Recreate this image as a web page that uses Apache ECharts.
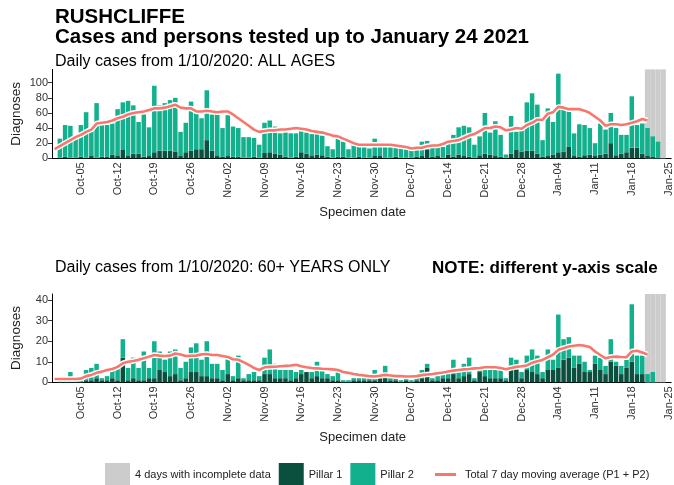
<!DOCTYPE html>
<html>
<head>
<meta charset="utf-8">
<script src="https://cdn.jsdelivr.net/npm/echarts@6/dist/echarts.min.js"></script>
<style>
  html, body { margin: 0; padding: 0; background: #ffffff; }
  #chart { width: 674px; height: 485px; }
</style>
</head>
<body>
<div id="chart"></div>
<script>
// Axis runs from 30 Sep 2020 to 25 Jan 2021; daily bars start on 1 Oct 2020.
const axisStartUTC = Date.UTC(2020, 8, 30);
const axisDayCount = 118;
const tickLabels = ['Oct-05', 'Oct-12', 'Oct-19', 'Oct-26', 'Nov-02', 'Nov-09', 'Nov-16', 'Nov-23',
  'Nov-30', 'Dec-07', 'Dec-14', 'Dec-21', 'Dec-28', 'Jan-04', 'Jan-11', 'Jan-18', 'Jan-25'];
const incompleteDays = ['Jan-21', 'Jan-22', 'Jan-23', 'Jan-24'];

// ALL AGES, daily cases 1 Oct 2020 - 24 Jan 2021
const allPillar1 = [
  1, 2, 1, 1, 2, 1, 3, 1, 2, 2,
  5, 3, 11, 3, 6, 6, 2, 3, 8, 10,
  10, 10, 9, 3, 8, 10, 12, 12, 24, 10,
  3, 2, 3, 2, 2, 1, 1, 2, 1, 7,
  8, 6, 5, 2, 1, 2, 8, 6, 3, 5,
  4, 2, 1, 2, 2, 1, 1, 2, 1, 1,
  3, 3, 1, 1, 2, 1, 1, 1, 2, 3,
  11, 2, 3, 1, 5, 2, 5, 3, 2, 1,
  4, 6, 5, 3, 2, 1, 6, 11, 9, 10,
  10, 6, 2, 3, 5, 8, 9, 15, 3, 2,
  4, 5, 3, 5, 6, 20, 4, 6, 8, 14,
  14, 6, 3, 2, 1, 0
];
const allPillar2 = [
  25, 42, 42, 29, 42, 60, 37, 72, 43, 42,
  41, 62, 63, 73, 64, 42, 56, 38, 88, 60,
  63, 67, 71, 32, 39, 65, 48, 41, 66, 48,
  57, 38, 54, 40, 38, 27, 27, 25, 17, 40,
  42, 36, 28, 32, 32, 31, 28, 28, 29, 27,
  26, 14, 11, 24, 20, 11, 16, 13, 14, 12,
  23, 14, 16, 16, 15, 14, 11, 9, 15, 19,
  12, 14, 14, 14, 17, 29, 36, 40, 39, 17,
  25, 54, 29, 46, 29, 4, 50, 24, 29, 64,
  76, 65, 22, 63, 43, 104, 55, 47, 30, 43,
  40, 35, 17, 41, 32, 40, 36, 25, 23, 68,
  30, 40, 37, 27, 21, 0
];
// 7 day moving average (P1 + P2), 30 Sep 2020 - 21 Jan 2021
const allAverage = [
  12,
  16, 20, 24, 28, 31, 35, 38, 46, 47, 48,
  50, 53, 55, 58, 60, 61, 62, 64, 66, 66,
  67, 69, 71, 67, 66, 66, 62, 62, 63, 62,
  61, 62, 62, 58, 53, 48, 43, 38, 35, 36,
  37, 37, 38, 38, 39, 40, 39, 38, 36, 35,
  34, 32, 30, 29, 26, 23, 20, 18, 18, 18,
  18, 18, 18, 18, 17, 16, 15, 13, 14, 14,
  16, 17, 17, 19, 22, 23, 24, 27, 30, 32,
  36, 40, 40, 42, 41, 37, 38, 40, 39, 44,
  47, 51, 51, 59, 61, 68, 67, 65, 65, 65,
  63, 60, 55, 50, 43, 45, 45, 44, 45, 47,
  49, 52, 50
];

// 60+ YEARS ONLY, daily cases 1 Oct 2020 - 24 Jan 2021
const oldPillar1 = [
  0, 0, 0, 0, 0, 1, 1, 2, 1, 1,
  2, 1, 12, 1, 2, 1, 1, 2, 2, 6,
  5, 3, 4, 1, 2, 5, 5, 3, 3, 2,
  2, 1, 4, 1, 2, 1, 1, 1, 1, 4,
  4, 2, 2, 2, 1, 2, 4, 5, 2, 3,
  2, 2, 1, 1, 0, 0, 1, 1, 1, 1,
  1, 2, 2, 1, 1, 0, 1, 0, 1, 2,
  7, 1, 1, 2, 2, 4, 2, 3, 4, 1,
  5, 3, 2, 2, 2, 1, 6, 7, 2, 6,
  5, 4, 2, 6, 6, 7, 11, 12, 7, 9,
  5, 5, 9, 6, 4, 10, 8, 4, 7, 10,
  4, 4, 0, 0, 0, 0
];
const oldPillar2 = [
  1, 1, 5, 1, 2, 5, 6, 7, 1, 2,
  4, 7, 9, 6, 10, 6, 14, 5, 18, 9,
  6, 12, 12, 6, 8, 12, 14, 8, 17, 7,
  7, 5, 8, 2, 11, 1, 3, 4, 2, 8,
  12, 7, 4, 4, 5, 3, 2, 0, 3, 7,
  4, 2, 2, 4, 1, 1, 1, 1, 1, 1,
  5, 0, 6, 1, 1, 1, 1, 1, 1, 4,
  2, 1, 2, 2, 3, 7, 3, 6, 8, 1,
  1, 3, 4, 4, 4, 1, 6, 4, 3, 7,
  11, 9, 3, 10, 5, 26, 10, 10, 6, 4,
  5, 1, 4, 6, 4, 11, 2, 4, 4, 28,
  9, 9, 4, 5, 0, 0
];
const oldAverage = [
  1.6,
  1.6, 1.6, 1.6, 1.6, 1.8, 3, 3.6, 4.6, 5.2, 6,
  6.5, 7.5, 9.3, 10, 10.4, 11, 11.7, 12.5, 13.3, 13,
  12.8, 13, 14, 13.5, 12.8, 12.9, 13, 13.6, 13.8, 13.3,
  13.3, 12.8, 12.3, 11.2, 11, 9.8, 8.5, 7, 6, 7.3,
  7.5, 7.6, 7.8, 8, 8.2, 8.5, 7.8, 7.3, 7, 6.8,
  6.6, 6.5, 6.3, 6, 5, 4.6, 4, 3.6, 3.3, 3,
  2.8, 3.2, 3.6, 3.3, 3, 3, 2.8, 2.8, 3, 3.5,
  3.8, 4, 4.4, 4.8, 5.3, 5.7, 6, 6.3, 6.5, 6.8,
  7, 7.3, 7.3, 7.3, 7, 6.3, 7, 7.5, 7.8, 8.2,
  9.5, 10.3, 10.9, 12.2, 13.5, 15.8, 16.6, 17.4, 17.8, 18.2,
  17.8, 17.2, 15, 13.3, 11.7, 12.3, 12.5, 12.3, 12.2, 15,
  15.4, 14.5, 13.5
];

const TOP_MAX = 117.6;
const BOTTOM_MAX = 43;

const COL_P1 = '#0b4f3e';
const COL_P2 = '#13b08e';
const COL_AVG = '#f8766d';
const COL_GREY = '#cccccc';
const FONT = 'Liberation Sans, Arial, Helvetica, sans-serif';

const MONTHS = ['Jan', 'Feb', 'Mar', 'Apr', 'May', 'Jun', 'Jul', 'Aug', 'Sep', 'Oct', 'Nov', 'Dec'];
const categories = [];
for (let i = 0; i < axisDayCount; i++) {
  const d = new Date(axisStartUTC + i * 86400000);
  categories.push(MONTHS[d.getUTCMonth()] + '-' + String(d.getUTCDate()).padStart(2, '0'));
}

// Bars begin one day after the axis start; the average begins on the axis start.
function barData(arr) {
  return categories.map((c, i) => (i >= 1 && i - 1 < arr.length ? arr[i - 1] : null));
}
function lineData(arr) {
  return categories.map((c, i) => (i < arr.length ? arr[i] : null));
}
function greyData(top) {
  return categories.map(c => (incompleteDays.includes(c) ? top : null));
}
const isTick = (i, v) => tickLabels.includes(v);

function mainXAxis(gridIndex) {
  return {
    type: 'category', gridIndex, data: categories, boundaryGap: true,
    axisLine: { lineStyle: { color: '#000', width: 1 } },
    axisTick: { interval: isTick, alignWithLabel: true, length: 4, lineStyle: { color: '#333' } },
    axisLabel: { interval: isTick, rotate: 90, fontSize: 11, color: '#333', margin: 4, fontFamily: FONT },
    splitLine: { show: false }
  };
}
function hiddenXAxis(gridIndex) {
  return { type: 'category', gridIndex, data: categories, boundaryGap: true, show: false };
}
function yAxis(gridIndex, max, interval) {
  return {
    type: 'value', gridIndex, min: 0, max, interval,
    axisLine: { show: true, lineStyle: { color: '#000', width: 1 } },
    axisTick: { show: true, length: 4, lineStyle: { color: '#333' } },
    axisLabel: { fontSize: 11, color: '#333', margin: 4, showMaxLabel: false, fontFamily: FONT },
    splitLine: { show: false }
  };
}

function panelSeries(xMain, xHidden, yIdx, p1, p2, avg, top) {
  return [
    {
      name: '4 days with incomplete data', type: 'bar', xAxisIndex: xHidden, yAxisIndex: yIdx,
      data: greyData(top), barWidth: '100%', itemStyle: { color: COL_GREY }, z: 1, silent: true
    },
    {
      name: 'Pillar 1', type: 'bar', stack: 'p' + yIdx, xAxisIndex: xMain, yAxisIndex: yIdx,
      data: barData(p1), barCategoryGap: '14%', itemStyle: { color: COL_P1 }, z: 2
    },
    {
      name: 'Pillar 2', type: 'bar', stack: 'p' + yIdx, xAxisIndex: xMain, yAxisIndex: yIdx,
      data: barData(p2), barCategoryGap: '14%', itemStyle: { color: COL_P2 }, z: 2
    },
    {
      name: 'halo', type: 'line', xAxisIndex: xMain, yAxisIndex: yIdx, data: lineData(avg),
      symbol: 'none', lineStyle: { color: '#ffffff', width: 5.5 }, z: 3, silent: true
    },
    {
      name: 'Total 7 day moving average (P1 + P2)', type: 'line', xAxisIndex: xMain, yAxisIndex: yIdx,
      data: lineData(avg), symbol: 'none', lineStyle: { color: COL_AVG, width: 2.6 },
      itemStyle: { color: COL_AVG }, z: 4
    }
  ];
}

const chart = echarts.init(document.getElementById('chart'), null, { renderer: 'canvas' });

function label(x, y, s, size, weight) {
  return {
    type: 'text', x, y,
    style: { text: s, fontSize: size, fontWeight: weight || 'normal', fill: '#000', fontFamily: FONT,
      textAlign: 'left', textVerticalAlign: 'middle' }
  };
}
function centred(x, y, s, size, rotation) {
  return {
    type: 'text', x, y, rotation: rotation || 0,
    style: { text: s, fontSize: size, fill: '#222', fontFamily: FONT, textAlign: 'center', textVerticalAlign: 'middle' }
  };
}

chart.setOption({
  animation: false,
  textStyle: { fontFamily: FONT },
  grid: [
    { left: 52, top: 69.4, width: 621.3, height: 88.9 },
    { left: 52, top: 294, width: 621.3, height: 88.3 }
  ],
  xAxis: [mainXAxis(0), mainXAxis(1), hiddenXAxis(0), hiddenXAxis(1)],
  yAxis: [yAxis(0, TOP_MAX, 20), yAxis(1, BOTTOM_MAX, 10)],
  legend: [
    {
      left: 100, top: 458, itemWidth: 25, itemHeight: 24, itemGap: 8, selectedMode: false,
      textStyle: { fontSize: 11, color: '#222', fontFamily: FONT },
      data: [
        { name: '4 days with incomplete data', icon: 'rect' },
        { name: 'Pillar 1', icon: 'rect' },
        { name: 'Pillar 2', icon: 'rect' }
      ]
    },
    {
      left: 430, top: 464, itemWidth: 21, itemHeight: 3, itemGap: 8, selectedMode: false,
      textStyle: { fontSize: 11, color: '#222', fontFamily: FONT, padding: [0, 0, 0, 4] },
      data: [{ name: 'Total 7 day moving average (P1 + P2)', icon: 'rect', itemStyle: { color: COL_AVG } }]
    }
  ],
  graphic: [
    label(55, 17, 'RUSHCLIFFE', 20.5, 'bold'),
    label(55, 37, 'Cases and persons tested up to January 24 2021', 20.5, 'bold'),
    label(55, 62, 'Daily cases from 1/10/2020: ALL AGES', 16),
    label(55, 268, 'Daily cases from 1/10/2020: 60+ YEARS ONLY', 16),
    label(432, 268, 'NOTE: different y-axis scale', 17, 'bold'),
    centred(362.7, 212, 'Specimen date', 13),
    centred(362.7, 437, 'Specimen date', 13),
    centred(16, 113.9, 'Diagnoses', 13.5, Math.PI / 2),
    centred(16, 338, 'Diagnoses', 13.5, Math.PI / 2)
  ],
  series: [
    ...panelSeries(0, 2, 0, allPillar1, allPillar2, allAverage, TOP_MAX),
    ...panelSeries(1, 3, 1, oldPillar1, oldPillar2, oldAverage, BOTTOM_MAX)
  ]
});
</script>
</body>
</html>
